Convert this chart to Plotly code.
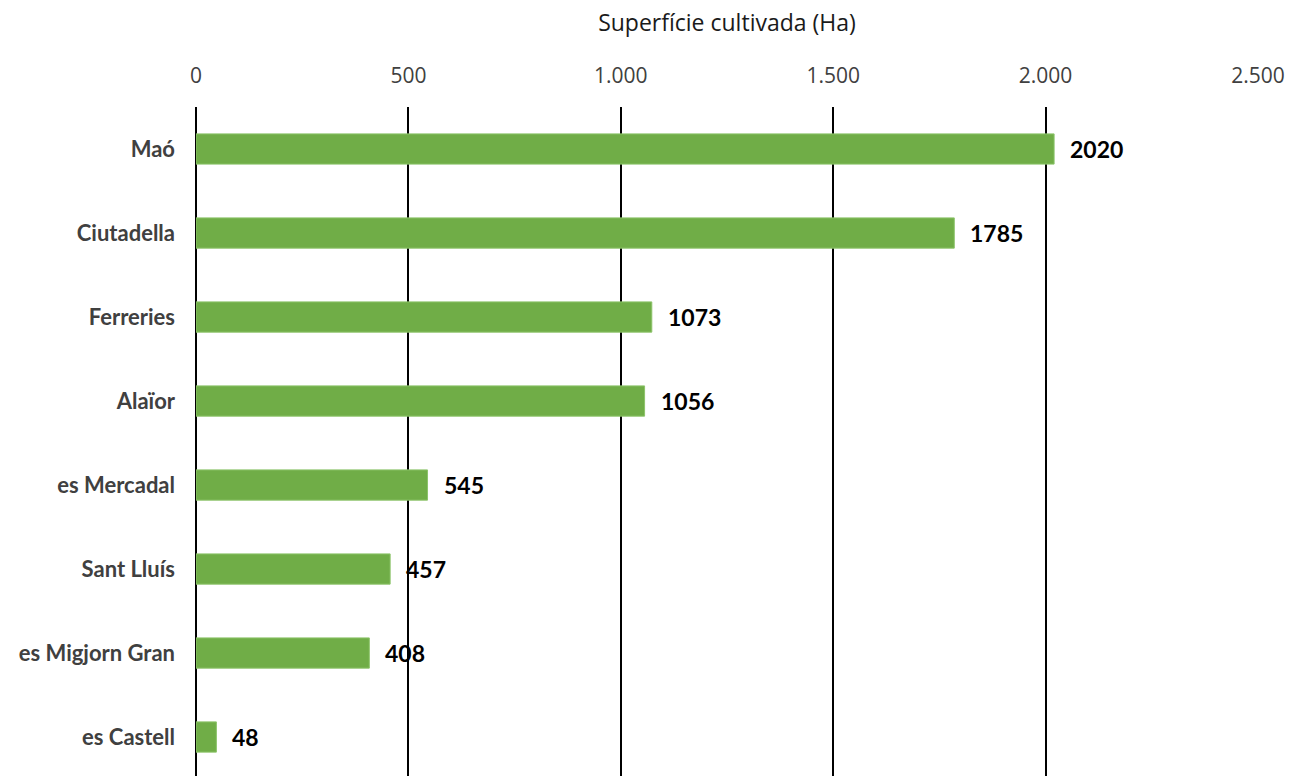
import plotly.graph_objects as go

municipis = ["Maó", "Ciutadella", "Ferreries", "Alaïor", "es Mercadal",
             "Sant Lluís", "es Migjorn Gran", "es Castell"]
superficie = [2020, 1785, 1073, 1056, 545, 457, 408, 48]
x_ticks = [0, 500, 1000, 1500, 2000, 2500]
x_tick_labels = ["0", "500", "1.000", "1.500", "2.000", "2.500"]

fig = go.Figure()
fig.add_trace(go.Bar(
    y=municipis, x=superficie, orientation="h",
    marker=dict(color="#70AD47", line=dict(color="#8cc46a", width=1)),
    width=0.36, hoverinfo="x+y",
))

for m, v in zip(municipis, superficie):
    fig.add_annotation(x=v, y=m, text=f"<b>{v}</b>", showarrow=False,
                       xanchor="left", yanchor="middle", xshift=14, yshift=0,
                       font=dict(family="Lato, Open Sans, sans-serif", size=23, color="#000000"))

fig.update_layout(
    width=1292, height=776,
    margin=dict(l=196, r=34, t=107, b=0, autoexpand=False),
    paper_bgcolor="white", plot_bgcolor="white",
    showlegend=False,
    xaxis=dict(
        side="top", range=[0, 2500], tickvals=x_ticks, ticktext=x_tick_labels,
        showgrid=True, gridcolor="#000000", gridwidth=2,
        zeroline=True, zerolinecolor="#000000", zerolinewidth=2,
        showline=False, ticks="", ticklabelstandoff=19, automargin=False,
        tickfont=dict(family="Open Sans, sans-serif", size=21, color="#404040"),
        title=dict(text="Superfície cultivada (Ha)", standoff=22,
                   font=dict(family="Open Sans, sans-serif", size=23, color="#1a1a1a")),
    ),
    yaxis=dict(
        categoryorder="array", categoryarray=municipis,
        range=[7.464, -0.5], showgrid=False, zeroline=False, showline=False,
        ticks="", ticklabelstandoff=20, automargin=False,
        tickfont=dict(family="Lato, Open Sans, sans-serif", size=22, color="#404040", weight="bold"),
    ),
)

fig.write_html("out.html", config={"displayModeBar": False},
               post_script="document.body.style.margin='0px';document.body.style.overflow='hidden';")
